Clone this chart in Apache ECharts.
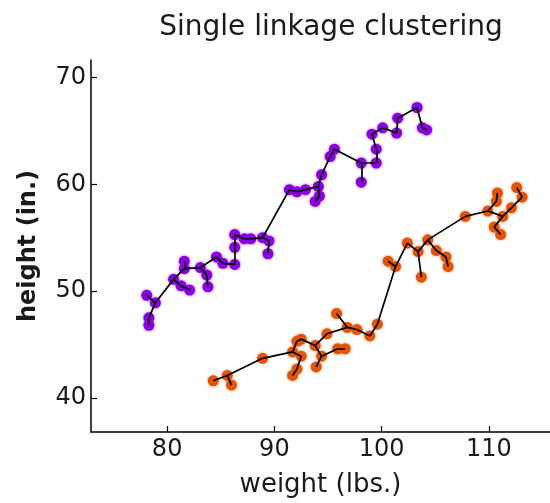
<!DOCTYPE html>
<html>
<head>
<meta charset="utf-8">
<script src="https://cdn.jsdelivr.net/npm/echarts@6/dist/echarts.min.js"></script>
<style>html,body{margin:0;padding:0;background:#fff}#c{width:550px;height:503px}</style>
</head>
<body>
<div id="c"></div>
<script>
// ---- data (weight in lbs., height in in.) ----
const purpleX = [78.1, 78.9, 78.3, 78.3, 80.6, 81.3, 82.1, 81.6, 81.6, 83.1, 83.7, 83.8, 84.6, 85.2, 86.3, 86.3, 86.3, 87.2, 87.8, 88.9, 89.5, 89.4, 91.4, 92.1, 92.9, 94.1, 94.4, 94.2, 93.8, 95.2, 95.6, 98.1, 98.1, 99.5, 99.5, 99.1, 100.1, 101.4, 101.5, 103.3, 103.8, 104.2];
const purpleY = [49.6, 48.9, 47.5, 46.8, 51.1, 50.5, 50.1, 52.8, 52.1, 52.2, 51.5, 50.4, 53.2, 52.6, 52.5, 55.3, 54.1, 54.9, 54.9, 55.0, 54.7, 53.5, 59.5, 59.3, 59.5, 59.8, 60.9, 58.9, 58.4, 62.6, 63.3, 62.0, 60.2, 62.0, 63.3, 64.7, 65.3, 64.8, 66.2, 67.2, 65.3, 65.1];
const orangeX = [84.3, 85.6, 86.0, 88.9, 92.1, 92.5, 91.7, 92.5, 92.1, 91.7, 93.8, 94.4, 93.9, 94.9, 95.9, 96.6, 95.8, 96.8, 97.7, 98.9, 99.6, 100.6, 101.3, 102.4, 103.4, 104.3, 103.7, 105.1, 106.0, 106.2, 107.8, 109.9, 110.8, 110.7, 111.3, 112.1, 110.5, 111.1, 112.6, 113.1];
const orangeY = [41.6, 42.1, 41.2, 43.7, 45.3, 45.5, 44.3, 43.9, 42.7, 42.1, 44.9, 43.9, 42.9, 46.0, 44.6, 44.6, 47.9, 46.6, 46.4, 45.8, 46.9, 52.8, 52.3, 54.5, 53.7, 54.8, 51.3, 53.8, 53.2, 52.3, 57.0, 57.5, 59.2, 58.4, 57.0, 57.8, 56.0, 55.3, 59.7, 58.8];
const xTicks = [80, 90, 100, 110];
const yTicks = [40, 50, 60, 70];

// single linkage within each cluster = minimum spanning tree (Prim)
function mst(xs, ys) {
  const n = xs.length, inTree = new Array(n).fill(false), best = new Array(n).fill(Infinity), parent = new Array(n).fill(-1);
  best[0] = 0; const edges = [];
  for (let k = 0; k < n; k++) {
    let u = -1;
    for (let i = 0; i < n; i++) if (!inTree[i] && (u < 0 || best[i] < best[u])) u = i;
    inTree[u] = true;
    if (parent[u] >= 0) edges.push({coords: [[xs[parent[u]], ys[parent[u]]], [xs[u], ys[u]]]});
    for (let v = 0; v < n; v++) {
      if (inTree[v]) continue;
      const d = Math.hypot(xs[u] - xs[v], ys[u] - ys[v]);
      if (d < best[v]) { best[v] = d; parent[v] = u; }
    }
  }
  return edges;
}
const zip = (a, b) => a.map((v, i) => [v, b[i]]);
const edges = mst(purpleX, purpleY).concat(mst(orangeX, orangeY));

const FONT = 'DejaVu Sans';
const TXT = '#1a1a1a';
const axisCommon = {
  type: 'value',
  axisLine: {show: true, onZero: false, lineStyle: {color: '#000', width: 1.5}},
  axisTick: {show: true, inside: true, length: 6, lineStyle: {color: '#000', width: 1.2}},
  splitLine: {show: false},
  nameLocation: 'middle',
  nameTextStyle: {fontFamily: FONT, fontSize: 26, color: TXT}
};
const chart = echarts.init(document.getElementById('c'));
chart.setOption({
  animation: false,
  backgroundColor: '#fff',
  title: {
    text: 'Single linkage clustering', left: 326, top: 9, textAlign: 'center',
    textStyle: {fontFamily: FONT, fontSize: 28, fontWeight: 'normal', color: TXT}
  },
  grid: {left: 91, right: 0, top: 60, bottom: 69},
  xAxis: Object.assign({}, axisCommon, {
    min: 72.9, max: 115.7, name: 'weight (lbs.)', nameGap: 40,
    axisTick: Object.assign({}, axisCommon.axisTick, {customValues: xTicks}),
    axisLabel: {customValues: xTicks, margin: 6, fontFamily: FONT, fontSize: 24, color: TXT}
  }),
  yAxis: Object.assign({}, axisCommon, {
    min: 36.8, max: 71.65, name: 'height (in.)', nameGap: 50,
    nameTextStyle: {fontFamily: FONT, fontSize: 24, color: TXT, fontWeight: 'bold'},
    axisTick: Object.assign({}, axisCommon.axisTick, {customValues: yTicks}),
    axisLabel: {customValues: yTicks, margin: 5, fontFamily: FONT, fontSize: 24, color: TXT}
  }),
  series: [
    {type: 'scatter', data: zip(purpleX, purpleY), symbolSize: 11, z: 2,
     itemStyle: {color: '#8a00e0', opacity: 1, shadowBlur: 3, shadowColor: 'rgba(138,0,224,0.6)'}},
    {type: 'scatter', data: zip(orangeX, orangeY), symbolSize: 11, z: 2,
     itemStyle: {color: '#e25508', opacity: 1, shadowBlur: 3, shadowColor: 'rgba(226,85,8,0.6)'}},
    {type: 'lines', coordinateSystem: 'cartesian2d', polyline: false, data: edges, z: 5,
     lineStyle: {color: '#000', width: 1.7, opacity: 1}, silent: true}
  ]
});
</script>
</body>
</html>
